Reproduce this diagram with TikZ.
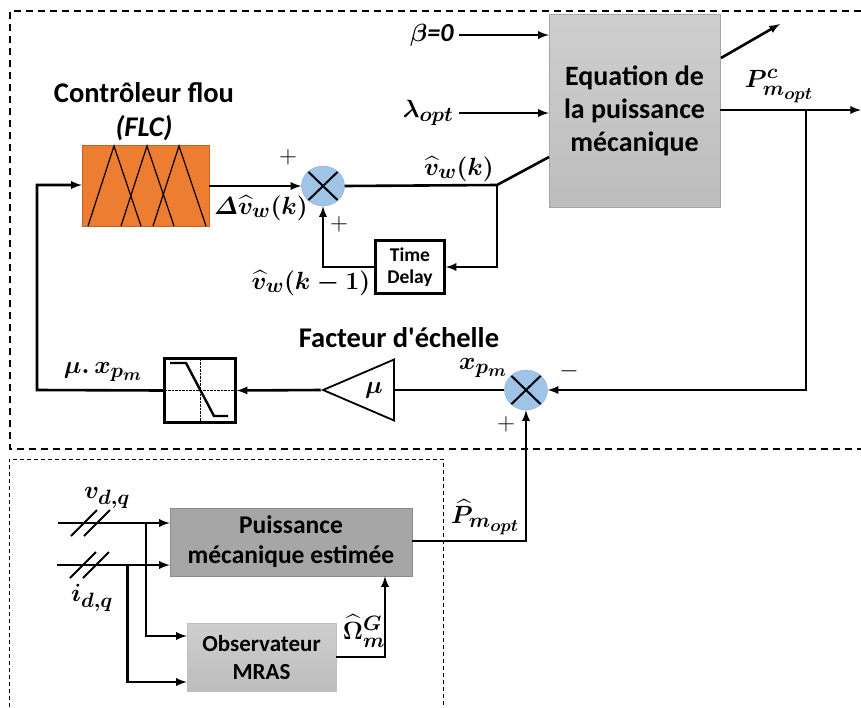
\documentclass[tikz,border=0pt]{standalone}
\usepackage{amsmath}
\usepackage[no-math]{fontspec}
\defaultfontfeatures[\rmfamily]{Ligatures=Common}
\setmainfont{Carlito}
\usetikzlibrary{arrows}
\usetikzlibrary{shapes.geometric}
\DeclareMathSizes{26}{26}{20}{17}
\definecolor{myorange}{RGB}{237, 125, 49}
\definecolor{myblue}{RGB}{160, 195, 232}
\tikzset{
  sig/.style={line width=2.6pt},
  sigarrow/.style={sig,-latex},
  sumnode/.style={ellipse,minimum width=43,minimum height=40,inner sep=0pt,fill=myblue,draw=myblue!90!black,
    path picture={\draw[black,line width=2pt] (path picture bounding box.north west)++(6,5) -- ++(31,30);
      \draw[black,line width=2pt] (path picture bounding box.north east)++(-6,5) -- ++(-31,30);}},
  math/.style={inner sep=0pt,font=\fontsize{26}{26}\selectfont\boldmath},
  sign/.style={inner sep=0pt,font=\fontsize{24}{24}\selectfont},
  title/.style={inner sep=0pt,align=center,font=\fontsize{28.5}{34}\selectfont\bfseries},
}
\begin{document}
\begin{tikzpicture}[x=1pt,y=-1pt]
  \useasboundingbox (0,0) rectangle (861,707);

  %Dashed frames
  \draw[line width=1.4pt,dash pattern=on 7pt off 5pt] (861,11) -- (10,11) -- (10,449) -- (861,449);
  \draw[line width=0.8pt,dash pattern=on 4pt off 3pt] (9,707) -- (9,459) -- (443,459) -- (443,707);

  %Blocks
  \node[draw=myorange!80!black,fill=myorange,minimum width=127,minimum height=81,inner sep=0pt] (flc) at (145.5,185.5) {};
  \node[sumnode] (sumA) at (323,186) {};
  \node[draw,line width=2.6pt,minimum width=69,minimum height=53,inner sep=0pt,align=center,
    font=\fontsize{19.5}{22}\selectfont\bfseries] (delay) at (410,267) {Time\\Delay};
  \node[draw=gray!70,top color=gray!38,bottom color=gray!52,minimum width=171,minimum height=193,inner sep=0pt,align=center,
    font=\fontsize{28}{33}\selectfont\bfseries] (eq) at (634.5,110.5) {Equation de\\la puissance\\mécanique};
  \node[sumnode] (sumB) at (526,390) {};
  \node[draw,line width=2.4pt,minimum width=71,minimum height=64,inner sep=0pt] (sat) at (200,390.5) {};
  \node[draw,line width=1.8pt,isosceles triangle,isosceles triangle stretches,shape border rotate=180,
    minimum width=61,minimum height=71,inner sep=0pt] (gain) at (374,390) {};
  \node[draw=gray!90,fill=gray!70,minimum width=242,minimum height=68,inner sep=0pt,align=center,
    font=\fontsize{25.5}{30}\selectfont\bfseries] (est) at (291,542) {Puissance\\mécanique estimée};
  \node[draw=gray!50,top color=gray!38,bottom color=gray!52,minimum width=149,minimum height=68,inner sep=0pt,align=center,
    font=\fontsize{23}{28}\selectfont\bfseries] (mras) at (261.5,657) {Observateur\\MRAS};

  %Fuzzy sets, inside the FLC block
  \foreach \x in {88,121,153}
    \draw[line width=1.2pt] (\x,226) -- (\x+26,146) -- (\x+53,226);

  %Saturation curve
  \draw[line width=0.4pt,densely dotted] (sat.west) -- (sat.east) (sat.north) -- (sat.south);
  \draw[line width=2.4pt] (170,363) -- (186,363) -- (214,416) -- (228,416);

  %Texts
  \node[title] (flctitle) at (144,112) {Contrôleur flou\\\textit{(FLC)}};
  \node[title] (scale) at (399,338) {Facteur d'échelle};
  \node[math] (beta) at (432,35) {$\beta$\textit{\bfseries =0}};
  \node[math] (lambda) at (428,113) {$\lambda_{opt}$};
  \node[math] (pc) at (779,86) {$P^{c}_{m_{opt}}$};
  \node[math] (dv) at (261,208) {$\boldsymbol{\varDelta}\widehat{v}_{w}(k)$};
  \node[math] (vk) at (459,169) {$\widehat{v}_{w}(k)$};
  \node[math] (vkm) at (311,283) {$\widehat{v}_{w}(k-1)$};
  \node[math] (xp) at (483,368) {$x_{p_{m}}$};
  \node[math] (mux) at (103,372) {$\mu.\,x_{p_{m}}$};
  \node[math] (mu) at (374,390) {$\mu$};
  \node[math] (phat) at (485,517) {$\widehat{P}_{m_{opt}}$};
  \node[math] (vdq) at (107,498) {$v_{d,q}$};
  \node[math] (idq) at (92,598) {$i_{d,q}$};
  \node[math] (omega) at (364,631) {$\widehat{\Omega}^{G}_{m}$};
  \node[sign] (plusA) at (288,157) {$+$};
  \node[sign] (plusB) at (339,224) {$+$};
  \node[sign] (plusC) at (506,424) {$+$};
  \node[sign] (minus) at (569,371) {$-$};

  %Free ends and branch points
  \coordinate (feedL) at (37,390);
  \coordinate (feedT) at (37,185);
  \coordinate (split) at (497,185);
  \coordinate (eqin) at (549,157);
  \coordinate (eqoutA) at (721,58);
  \coordinate (tipA) at (780,24);
  \coordinate (eqout) at (720,110);
  \coordinate (tipB) at (861,110);
  \coordinate (tap) at (806,110);
  \coordinate (vin) at (58,523);
  \coordinate (iin) at (57,565);
  \coordinate (vtap) at (146,523);
  \coordinate (itap) at (127.5,565);
  \coordinate (vmras) at (mras.west |- 0,636);
  \coordinate (imras) at (mras.west |- 0,682);
  \coordinate (estout) at (est.east |- 0,541);
  \coordinate (mrasup) at (385,657);

  %Forward path
  \draw[sigarrow] (flc.east |- sumA) -- (sumA.west);
  \draw[sig] (sumA.east) -- (split) -- (eqin);
  \draw[sigarrow] (split) -- (split |- delay) -- (delay.east);
  \draw[sigarrow] (delay.west) -- (sumA |- delay) -- (sumA.south);
  \draw[sigarrow] (beta.east -| 459,0) -- (beta -| eq.west);
  \draw[sigarrow] (lambda.east -| 459,0) -- (lambda -| eq.west);
  \draw[sigarrow] (eqoutA) -- (tipA);
  \draw[sigarrow] (eqout) -- (tipB);

  %Return path
  \draw[sigarrow] (tap) -- (tap |- sumB) -- (sumB.east);
  \draw[sig] (sumB.west) -- (gain.east);
  \draw[sigarrow] (gain.apex) -- (sat.east);
  \draw[sigarrow] (sat.west) -- (feedL) -- (feedT) -- (flc.west |- feedT);

  %Estimator
  \draw[sigarrow] (vin) -- (vin -| est.west);
  \draw[sigarrow] (iin) -- (iin -| est.west);
  \draw[sigarrow] (vtap) -- (vtap |- vmras) -- (vmras);
  \draw[sigarrow] (itap) -- (itap |- imras) -- (imras);
  \draw[sigarrow] (mras.east |- mrasup) -- (mrasup) -- (mrasup |- est.south);
  \draw[sigarrow] (estout) -- (sumB |- estout) -- (sumB.south);

  %Bus marks
  \foreach \x/\y in {71/523,84/523,70/565,83/565}
    \draw[line width=2pt] (\x,\y+13) -- (\x+26,\y-13);
\end{tikzpicture}
\end{document}
